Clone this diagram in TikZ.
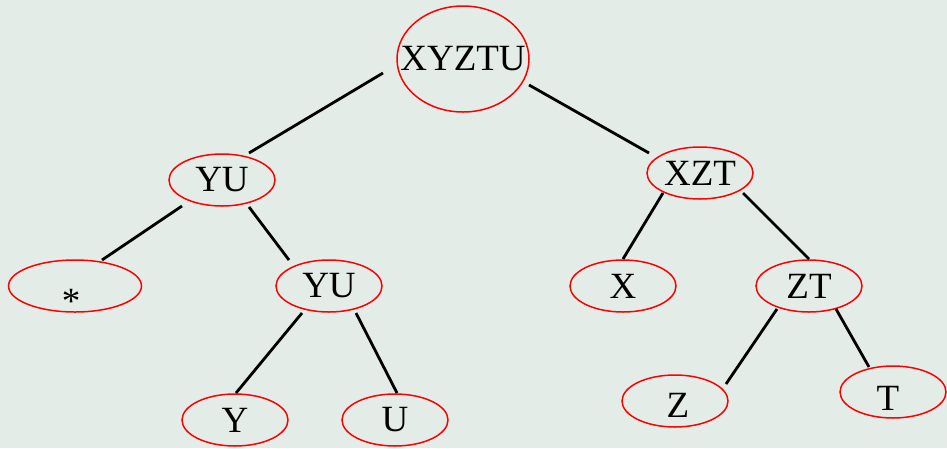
\documentclass[tikz,border=0pt]{standalone}
\usepackage{fontspec}
\setmainfont{Liberation Serif}
\usetikzlibrary{shapes.geometric}
\definecolor{bgc}{HTML}{E4ECE8}
\newcommand\offtxt[3]{\makebox[0pt]{\hspace{#1}\raisebox{#2}[24.5pt][0pt]{#3}}}
\begin{document}
\begin{tikzpicture}[x=1pt,y=-1pt,
  tn/.style={ellipse, draw=red, line width=1.5pt, inner sep=0pt,
    minimum width=106pt, minimum height=52pt, font=\fontsize{37}{40}\selectfont},
  edge/.style={line width=2.8pt, draw=black}]
\fill[bgc] (0,0) rectangle (947,448);
\useasboundingbox (0,0) rectangle (947,448);
% nodes
\node[tn, minimum width=132pt, minimum height=106pt] (root) at (463,59) {\makebox[0pt]{XYZTU}};
\node[tn] (yu) at (222,180) {YU};
\node[tn, minimum width=133pt] (star) at (75,286) {\makebox[0pt]{\hspace{-8pt}\raisebox{-27pt}[0pt][0pt]{*}}};
\node[tn] (yu2) at (329,286) {YU};
\node[tn] (y) at (235,420) {Y};
\node[tn] (u) at (395,420) {U};
\node[tn] (xzt) at (700,173) {XZT};
\node[tn] (x) at (623,286) {X};
\node[tn] (zt) at (809,286) {ZT};
\node[tn] (z) at (675,401) {\offtxt{6pt}{-4pt}{Z}};
\node[tn] (t) at (893,392) {\offtxt{-10pt}{-6pt}{T}};
% connectors
\draw[edge] ([shift={(-80,14)}]root.center) -- ([shift={(27,-27)}]yu.center);
\draw[edge] ([shift={(66,26)}]root.center) -- ([shift={(-51,-20)}]xzt.center);
\draw[edge] ([shift={(-40,26)}]yu.center) -- ([shift={(27,-26)}]star.center);
\draw[edge] ([shift={(27,27)}]yu.center) -- ([shift={(-40,-26)}]yu2.center);
\draw[edge] ([shift={(-37,20)}]xzt.center) -- ([shift={(0,-27)}]x.center);
\draw[edge] ([shift={(43,20)}]xzt.center) -- ([shift={(0,-27)}]zt.center);
\draw[edge] ([shift={(-27,27)}]yu2.center) -- ([shift={(1,-27)}]y.center);
\draw[edge] ([shift={(27,27)}]yu2.center) -- ([shift={(2,-27)}]u.center);
\draw[edge] ([shift={(-32,23)}]zt.center) -- ([shift={(51,-17)}]z.center);
\draw[edge] ([shift={(27,23)}]zt.center) -- ([shift={(-24,-25)}]t.center);
\end{tikzpicture}
\end{document}
